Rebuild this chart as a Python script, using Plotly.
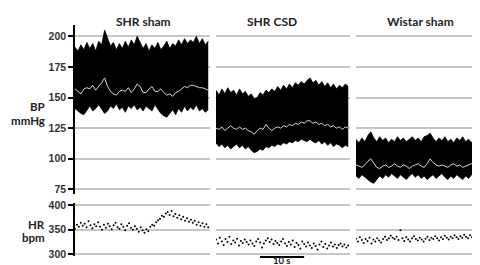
import numpy as np
import plotly.graph_objects as go

# ---------------- data ----------------
panel_titles = ["SHR sham", "SHR CSD", "Wistar sham"]
bp_ticks = [75, 100, 125, 150, 175, 200]
hr_ticks = [300, 350, 400]

# blood pressure envelopes (systolic / diastolic) and mean, mmHg
sham_sys = [191,188,193,189,195,190,194,188,196,193,205,199,192,195,189,194,190,196,191,197,193,200,195,190,194,188,
            193,190,195,189,192,196,190,194,192,197,193,198,194,197,195,200,194,198,193,196]
sham_dia = [141,139,137,136,140,143,139,141,144,140,137,139,143,141,145,140,142,138,143,141,144,140,142,139,143,141,
            139,144,140,137,135,134,137,140,136,141,138,143,139,142,140,144,139,141,138,140]
sham_mean = [157,155,153,157,158,157,160,156,159,162,166,159,155,153,152,155,156,155,158,154,157,161,159,154,154,157,
             159,155,155,157,154,152,153,151,154,155,157,159,158,160,160,159,158,158,157,156]

csd_sys = [156,152,157,153,158,154,156,152,157,153,155,151,153,149,150,154,152,156,154,157,155,159,156,160,157,161,
           158,162,160,163,161,164,166,162,164,160,163,159,162,158,161,157,160,158,161,159]
csd_dia = [113,110,112,109,111,108,110,112,109,111,108,110,107,105,106,108,107,110,109,111,110,112,111,113,112,114,
           113,115,114,116,115,114,116,114,113,115,112,114,111,113,110,112,111,109,111,110]
csd_mean = [125,124,126,123,125,127,125,124,126,124,125,123,122,120,123,125,124,128,125,123,125,126,125,127,126,128,
            127,129,128,130,129,131,131,129,130,128,129,127,128,126,127,125,126,124,126,125]

wis_sys = [116,113,117,114,119,122,117,114,118,115,117,113,116,114,118,115,117,114,116,118,115,117,114,118,119,121,
           117,114,117,115,118,114,116,113,117,115,118,114,116,113,117,115,116,114,117,115]
wis_dia = [86,84,87,85,83,81,80,83,86,84,87,85,88,86,84,87,85,83,86,88,85,87,84,86,83,85,87,84,86,88,85,83,86,84,87,
           85,83,86,84,87,85,84,82,83,80,81]
wis_mean = [95,94,93,95,98,100,96,93,92,94,95,93,94,96,94,93,95,94,92,94,95,96,94,93,96,100,97,95,94,95,94,93,95,96,
            94,95,93,94,95,96,94,93,95,94,96,97]

# heart rate, bpm
hr_sham = [352,360,356,364,358,362,355,367,359,353,361,357,365,356,350,360,354,362,357,351,359,364,355,352,361,356,
           349,358,363,354,350,357,352,346,355,349,344,351,347,356,360,358,365,369,372,378,376,383,386,380,388,377,
           382,374,379,371,376,368,373,366,370,364,368,360,365,358,363,356,361,355]
hr_csd = [330,322,334,326,319,331,325,336,321,328,324,332,318,327,323,330,325,320,328,322,317,326,331,324,314,322,
          328,333,325,330,321,327,323,319,326,331,322,317,325,320,328,315,323,319,312,326,321,316,324,318,313,322,
          317,310,320,326,315,321,312,318,324,316,320,313,319,322,316,320,314,318]
hr_wis = [332,326,335,329,323,331,327,334,322,330,326,333,328,324,331,336,329,333,338,334,331,336,329,349,333,327,
          335,330,326,333,337,331,328,334,330,326,332,336,329,334,331,337,333,328,335,331,338,334,330,336,333,339,
          335,331,337,334,340,336,333,339,335,341,337,343,339,345,341,338,344,342]

duration = 30.0   # seconds shown per panel
scale_bar = [10, 20]  # seconds (10 s bar)

bp_sets = [(sham_sys, sham_dia, sham_mean), (csd_sys, csd_dia, csd_mean), (wis_sys, wis_dia, wis_mean)]
hr_sets = [hr_sham, hr_csd, hr_wis]

# ---------------- figure ----------------
W, H = 480, 265
fig = go.Figure()

x_dom = [[67 / W, 202 / W], [208 / W, 342 / W], [348 / W, 1.0]]
x_rng = [[0, 30.4], [0, 30.4], [0, 29.7]]
bp_dom = [1 - 188 / H, 1 - 13 / H]
hr_dom = [1 - 252 / H, 1 - 197 / H]
bp_rng = [71, 209.5]
hr_rng = [296.1, 403.9]

for i in range(3):
    sys_v, dia_v, mean_v = bp_sets[i]
    t = np.linspace(0, duration, len(sys_v))
    xa = "x" if i == 0 else f"x{i+1}"
    ya = "y" if i == 0 else f"y{i+1}"
    fig.add_trace(go.Scatter(x=t, y=dia_v, mode="lines", line=dict(color="black", width=0.8),
                             xaxis=xa, yaxis=ya, showlegend=False, hoverinfo="skip"))
    fig.add_trace(go.Scatter(x=t, y=sys_v, mode="lines", line=dict(color="black", width=0.8),
                             fill="tonexty", fillcolor="black",
                             xaxis=xa, yaxis=ya, showlegend=False, hoverinfo="skip"))
    fig.add_trace(go.Scatter(x=t, y=mean_v, mode="lines", line=dict(color="#d6d6d6", width=1),
                             xaxis=xa, yaxis=ya, showlegend=False, hoverinfo="skip"))
    hr = hr_sets[i]
    th = np.linspace(0, duration, len(hr))
    xb = f"x{i+4}"
    yb = f"y{i+4}"
    fig.add_trace(go.Scatter(x=th, y=hr, mode="markers", marker=dict(color="black", size=2),
                             xaxis=xb, yaxis=yb, showlegend=False, hoverinfo="skip"))

layout = dict(width=W, height=H, margin=dict(l=0, r=0, t=0, b=0),
              paper_bgcolor="white", plot_bgcolor="white", showlegend=False)

tickfont = dict(family="Liberation Sans, Arial, sans-serif", size=10.5, color="#333", weight="bold")
grid = dict(showgrid=True, gridcolor="#c6c6c6", gridwidth=1.5, zeroline=False)

for i in range(3):
    for row in range(2):
        k = i + 1 + 3 * row
        xname = "xaxis" if k == 1 else f"xaxis{k}"
        yname = "yaxis" if k == 1 else f"yaxis{k}"
        anchor_y = "y" if k == 1 else f"y{k}"
        anchor_x = "x" if k == 1 else f"x{k}"
        layout[xname] = dict(domain=x_dom[i], range=x_rng[i], anchor=anchor_y, visible=False, fixedrange=True)
        yax = dict(domain=bp_dom if row == 0 else hr_dom,
                   range=bp_rng if row == 0 else hr_rng,
                   tickvals=bp_ticks if row == 0 else hr_ticks,
                   anchor=anchor_x, **grid)
        if i == 0:
            yax.update(showline=True, linecolor="black", linewidth=1.5, ticks="outside", ticklen=5,
                       tickwidth=1.5, tickcolor="black", tickfont=tickfont, showticklabels=True)
        else:
            yax.update(showline=False, ticks="", showticklabels=False)
        layout[yname] = yax

fig.update_layout(**layout)

title_font = dict(family="Lato, Open Sans, sans-serif", size=12, color="#222", weight="bold")
title_x = [135, 264, 412]
for i, ttl in enumerate(panel_titles):
    fig.add_annotation(text=ttl, xref="paper", yref="paper", x=title_x[i] / W, y=1 - 10 / H,
                       xanchor="center", yanchor="middle", showarrow=False, font=title_font)

lab_font = dict(family="Lato, Open Sans, sans-serif", size=11.5, color="#222", weight="bold")
for txt, ypx in [("BP", 97), ("mmHg", 112), ("HR", 219), ("bpm", 233)]:
    fig.add_annotation(text=txt, xref="paper", yref="paper", x=39 / W, y=1 - ypx / H,
                       xanchor="right", yanchor="middle", showarrow=False, font=lab_font)

# 10 s scale bar under the middle panel
fig.add_shape(type="line", xref="x2", yref="paper", x0=scale_bar[0], x1=scale_bar[1],
              y0=1 - 252.5 / H, y1=1 - 252.5 / H, line=dict(color="black", width=2))
fig.add_annotation(text="10 s", xref="x2", yref="paper", x=(scale_bar[0] + scale_bar[1]) / 2, y=2.5 / H,
                   xanchor="center", yanchor="bottom", showarrow=False, font=dict(lab_font, size=9.5),
                   borderpad=0)

fig.write_html("out.html")
